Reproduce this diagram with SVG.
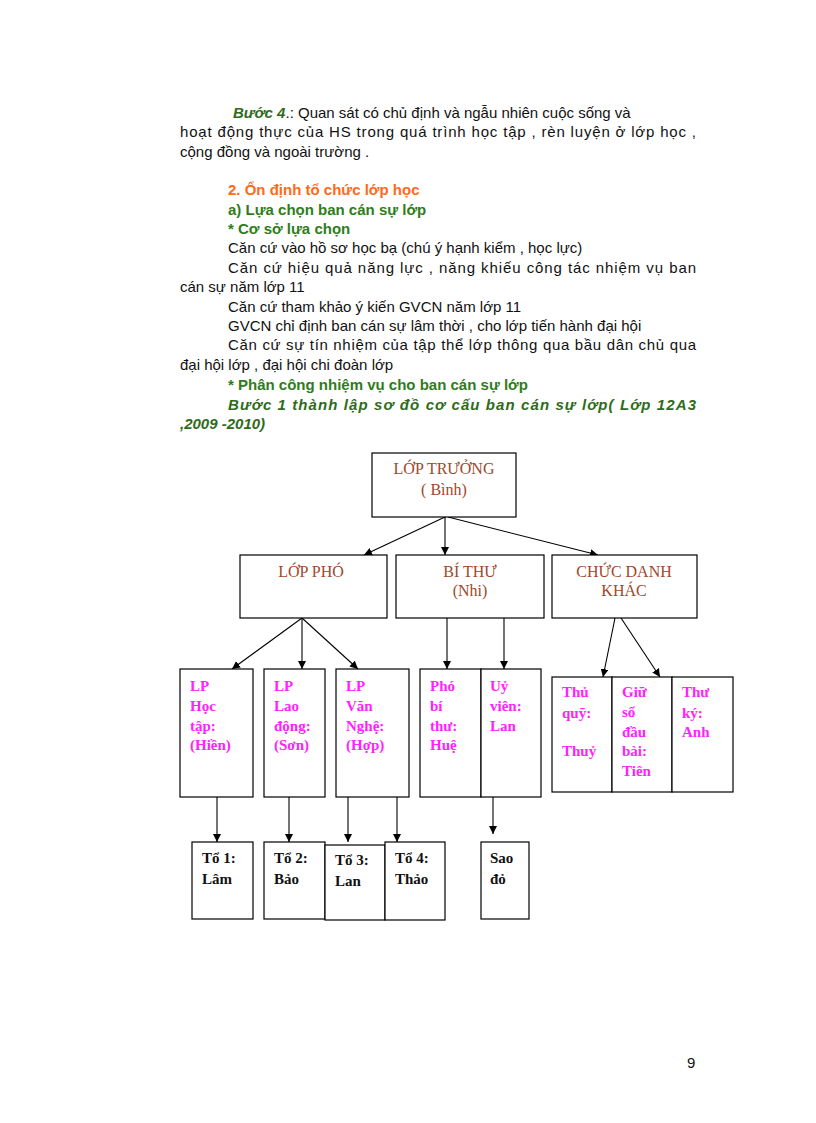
<svg xmlns="http://www.w3.org/2000/svg" width="816" height="1123" viewBox="0 0 816 1123">
<style>
.t{font-family:"Liberation Sans",Arial,sans-serif;font-size:15px;fill:#111}
.g{fill:#2e7d1a;font-weight:bold}
.gi{fill:#2e6b1a;font-weight:bold;font-style:italic}
.o{fill:#ff6a1a;font-weight:bold}
.b{fill:#fff;stroke:#000;stroke-width:1.2}
.h{font-family:"Liberation Serif","Times New Roman",serif;font-size:16px;fill:#a0482a;text-anchor:middle}
.m{font-family:"Liberation Serif","Times New Roman",serif;font-size:15px;font-weight:bold;fill:#ff22ff}
.k{font-family:"Liberation Serif","Times New Roman",serif;font-size:15px;font-weight:bold;fill:#111}
.c{stroke:#000;stroke-width:1.1;fill:none;marker-end:url(#a)}
</style>
<defs><marker id="a" viewBox="0 0 10 10" refX="10" refY="5" markerWidth="8" markerHeight="8" orient="auto" markerUnits="userSpaceOnUse"><path d="M0,0L10,5L0,10z" fill="#000"/></marker></defs>
<rect width="816" height="1123" fill="#fff"/>
<g id="text">
<text class="t" x="233" y="118"><tspan class="gi">Bước 4</tspan>.: Quan sát có chủ định  và ngẫu nhiên cuộc sống và</text>
<text class="t" x="180" y="137" textLength="516">hoạt động thực của HS trong quá trình  học tập , rèn luyện ở lớp học ,</text>
<text class="t" x="180" y="157">cộng đồng và ngoài trường .</text>
<text class="t o" x="228" y="195">2. Ổn định tổ chức lớp học</text>
<text class="t g" x="228" y="215">a) Lựa chọn ban cán sự lớp</text>
<text class="t g" x="228" y="234">* Cơ sở lựa chọn</text>
<text class="t" x="228" y="253">Căn cứ vào hồ sơ học bạ (chú ý hạnh kiểm , học lực)</text>
<text class="t" x="228" y="273" textLength="468">Căn cứ hiệu quả năng lực , năng khiếu công tác nhiệm vụ ban</text>
<text class="t" x="180" y="292">cán sự năm lớp 11</text>
<text class="t" x="228" y="312">Căn cứ tham khảo ý kiến GVCN năm lớp 11</text>
<text class="t" x="228" y="331">GVCN chỉ định ban cán sự lâm thời , cho lớp tiến hành  đại hội</text>
<text class="t" x="228" y="350" textLength="468">Căn cứ sự tín nhiệm của tập thể lớp thông qua bầu dân chủ  qua</text>
<text class="t" x="180" y="370">đại hội lớp , đại hội chi đoàn lớp</text>
<text class="t g" x="228" y="390">* Phân công nhiệm vụ cho ban cán sự lớp</text>
<text class="t gi" x="228" y="410" textLength="468">Bước 1 thành lập sơ đồ cơ cấu ban cán sự lớp( Lớp 12A3</text>
<text class="t gi" x="180" y="429">,2009 -2010)</text>
<text class="t" x="687" y="1068">9</text>
</g>
<g id="connectors">
<line class="c" x1="445" y1="517" x2="364" y2="555"/>
<line class="c" x1="445" y1="517" x2="445" y2="555"/>
<line class="c" x1="448" y1="517" x2="598" y2="555"/>
<line class="c" x1="302" y1="618" x2="232" y2="669"/>
<line class="c" x1="302" y1="618" x2="302" y2="669"/>
<line class="c" x1="302" y1="618" x2="358" y2="669"/>
<line class="c" x1="447" y1="618" x2="447" y2="669"/>
<line class="c" x1="504" y1="618" x2="504" y2="669"/>
<line class="c" x1="615" y1="618" x2="603" y2="677"/>
<line class="c" x1="621" y1="618" x2="660" y2="677"/>
<line class="c" x1="217" y1="797" x2="217" y2="842"/>
<line class="c" x1="289" y1="797" x2="289" y2="842"/>
<line class="c" x1="348" y1="797" x2="348" y2="842"/>
<line class="c" x1="397" y1="797" x2="397" y2="842"/>
<line class="c" x1="493" y1="797" x2="493" y2="834"/>
</g>
<g id="n-lt"><rect class="b" x="372" y="453" width="144" height="64"/><text class="h" x="444" y="474">LỚP TRƯỞNG</text><text class="h" x="444" y="495">( Bình)</text></g>
<g id="n-lp"><rect class="b" x="240" y="555" width="147" height="63"/><text class="h" x="311" y="577">LỚP PHÓ</text></g>
<g id="n-bt"><rect class="b" x="396" y="555" width="148" height="63"/><text class="h" x="470" y="577">BÍ THƯ</text><text class="h" x="470" y="596">(Nhi)</text></g>
<g id="n-cd"><rect class="b" x="552" y="555" width="145" height="63"/><text class="h" x="624" y="577">CHỨC DANH</text><text class="h" x="624" y="596">KHÁC</text></g>
<g id="n-lp1"><rect class="b" x="180" y="669" width="73" height="128"/><text class="m" x="190" y="691">LP</text><text class="m" x="190" y="711">Học</text><text class="m" x="190" y="731">tập:</text><text class="m" x="190" y="750">(Hiền)</text></g>
<g id="n-lp2"><rect class="b" x="264" y="669" width="61" height="128"/><text class="m" x="274" y="691">LP</text><text class="m" x="274" y="711">Lao</text><text class="m" x="274" y="731">động:</text><text class="m" x="274" y="750">(Sơn)</text></g>
<g id="n-lp3"><rect class="b" x="336" y="669" width="73" height="128"/><text class="m" x="346" y="691">LP</text><text class="m" x="346" y="711">Văn</text><text class="m" x="346" y="731">Nghệ:</text><text class="m" x="346" y="750">(Hợp)</text></g>
<g id="n-pbt"><rect class="b" x="420" y="669" width="61" height="128"/><text class="m" x="430" y="691">Phó</text><text class="m" x="430" y="711">bí</text><text class="m" x="430" y="731">thư:</text><text class="m" x="430" y="750">Huệ</text></g>
<g id="n-uv"><rect class="b" x="481" y="669" width="60" height="128"/><text class="m" x="490" y="691">Uỷ</text><text class="m" x="490" y="711">viên:</text><text class="m" x="490" y="731">Lan</text></g>
<g id="n-tq"><rect class="b" x="552" y="677" width="60" height="115"/><text class="m" x="562" y="697">Thủ</text><text class="m" x="562" y="718">quỹ:</text><text class="m" x="562" y="756">Thuỷ</text></g>
<g id="n-gs"><rect class="b" x="612" y="677" width="60" height="115"/><text class="m" x="622" y="697">Giữ</text><text class="m" x="622" y="717">sổ</text><text class="m" x="622" y="737">đầu</text><text class="m" x="622" y="756">bài:</text><text class="m" x="622" y="776">Tiên</text></g>
<g id="n-tk"><rect class="b" x="672" y="677" width="61" height="115"/><text class="m" x="682" y="697">Thư</text><text class="m" x="682" y="718">ký:</text><text class="m" x="682" y="737">Anh</text></g>
<g id="n-t1"><rect class="b" x="192" y="842" width="61" height="77"/><text class="k" x="202" y="863">Tổ 1:</text><text class="k" x="202" y="884">Lâm</text></g>
<g id="n-t2"><rect class="b" x="264" y="842" width="61" height="77"/><text class="k" x="274" y="863">Tổ 2:</text><text class="k" x="274" y="884">Bảo</text></g>
<g id="n-t3"><rect class="b" x="325" y="845" width="60" height="75"/><text class="k" x="335" y="865">Tổ 3:</text><text class="k" x="335" y="886">Lan</text></g>
<g id="n-t4"><rect class="b" x="385" y="842" width="60" height="78"/><text class="k" x="395" y="863">Tổ 4:</text><text class="k" x="395" y="884">Thảo</text></g>
<g id="n-sd"><rect class="b" x="481" y="842" width="48" height="77"/><text class="k" x="490" y="863">Sao</text><text class="k" x="490" y="884">đỏ</text></g>
</svg>
